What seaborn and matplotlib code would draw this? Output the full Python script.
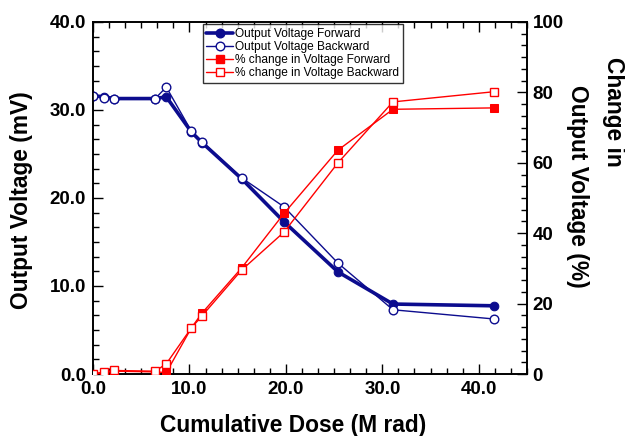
import matplotlib
matplotlib.use("Agg")
import matplotlib.pyplot as plt
import seaborn as sns
import pandas as pd
from matplotlib.ticker import MultipleLocator, FormatStrFormatter
from matplotlib.lines import Line2D

dose = [0.0, 1.15, 2.2, 6.45, 7.6, 10.2, 11.3, 15.4, 19.8, 25.4, 31.1, 41.6]
v_forward = [31.6, 31.5, 31.3, 31.3, 31.5, 27.5, 26.3, 22.2, 17.3, 11.6, 7.95, 7.75]
v_backward = [31.6, 31.4, 31.3, 31.3, 32.6, 27.6, 26.4, 22.3, 19.0, 12.6, 7.3, 6.25]
pct_forward = [0.0, 0.4, 0.8, 0.6, 0.4, 13.1, 17.3, 30.1, 45.6, 63.6, 75.2, 75.6]
pct_backward = [0.0, 0.6, 1.0, 0.8, 2.9, 13.1, 16.5, 29.5, 40.3, 60.0, 77.3, 80.2]

labels = ["Output Voltage Forward", "Output Voltage Backward",
          "% change in Voltage Forward", "% change in Voltage Backward"]

df = pd.DataFrame({"dose": dose, "vf": v_forward, "vb": v_backward,
                   "pf": pct_forward, "pb": pct_backward})

sns.set_theme(style="white")
plt.rcParams['font.family'] = ['Liberation Sans', 'DejaVu Sans']
plt.rcParams['text.color'] = 'black'
plt.rcParams['axes.labelcolor'] = 'black'
plt.rcParams['xtick.color'] = 'black'
plt.rcParams['ytick.color'] = 'black'

navy = "#0c0c8e"
red = "#ff0000"

fig = plt.figure(figsize=(6.25, 4.36), dpi=100)
ax = fig.add_axes([93/625, 62/436, 434/625, 352/436])
ax2 = ax.twinx()

msz = 6.2
ssz = 5.6
sns.lineplot(data=df, x="dose", y="vf", ax=ax, color=navy, lw=2.6, marker="o",
             markersize=msz, markerfacecolor=navy, markeredgecolor=navy, zorder=4)
sns.lineplot(data=df, x="dose", y="vb", ax=ax, color=navy, lw=1.0, marker="o",
             markersize=msz, markerfacecolor="white", markeredgecolor=navy, markeredgewidth=1.0, zorder=5)
sns.lineplot(data=df, x="dose", y="pf", ax=ax2, color=red, lw=1.0, marker="s",
             markersize=ssz, markerfacecolor=red, markeredgecolor=red, zorder=4)
sns.lineplot(data=df, x="dose", y="pb", ax=ax2, color=red, lw=1.0, marker="s",
             markersize=ssz, markerfacecolor="white", markeredgecolor=red, markeredgewidth=1.0, zorder=5)

ax.set_xlim(0, 45)
ax.set_ylim(0, 40)
ax2.set_ylim(0, 100)
ax.set_xlabel("")
ax.set_ylabel("")
ax2.set_ylabel("")

ax.xaxis.set_major_locator(MultipleLocator(10))
ax.xaxis.set_minor_locator(MultipleLocator(10/6))
ax.yaxis.set_major_locator(MultipleLocator(10))
ax.yaxis.set_minor_locator(MultipleLocator(10/6))
ax2.yaxis.set_major_locator(MultipleLocator(20))
ax2.yaxis.set_minor_locator(MultipleLocator(20/6))
ax.xaxis.set_major_formatter(FormatStrFormatter("%.1f"))
ax.yaxis.set_major_formatter(FormatStrFormatter("%.1f"))
ax2.yaxis.set_major_formatter(FormatStrFormatter("%d"))

ax.tick_params(axis="both", which="both", direction="in", top=True, bottom=True, left=True, right=False,
               width=1.0, colors="black")
ax.tick_params(axis="y", which="both", right=False)
ax.tick_params(which="major", length=7, labelsize=13.5, pad=5)
ax.tick_params(which="minor", length=4)
ax2.tick_params(axis="y", which="both", direction="in", right=True, left=False, width=1.0, colors="black")
ax2.tick_params(which="major", length=7, labelsize=13.5, pad=4)
ax2.tick_params(which="minor", length=4)
for a in (ax, ax2):
    for lab in a.get_xticklabels() + a.get_yticklabels():
        lab.set_fontweight("bold")
        lab.set_color("black")
    for s in a.spines.values():
        s.set_color("black")
        s.set_linewidth(1.2)

fs = 16.4
fig.text(22/625, 1 - 200/436, "Output Voltage (mV)", rotation=90, ha="center", va="center",
         fontsize=fs, fontweight="bold", color="black")
fig.text(293/625, 1 - 425/436, "Cumulative Dose (M rad)", ha="center", va="center",
         fontsize=fs, fontweight="bold", color="black")
fig.text(614/625, 1 - 112/436, "Change in", rotation=270, ha="center", va="center",
         fontsize=fs, fontweight="bold", color="black")
fig.text(578/625, 1 - 186/436, "Output Voltage (%)", rotation=270, ha="center", va="center",
         fontsize=fs, fontweight="bold", color="black")

handles = [
    Line2D([], [], color=navy, lw=2.6, marker="o", markersize=msz, markerfacecolor=navy, markeredgecolor=navy),
    Line2D([], [], color=navy, lw=1.0, marker="o", markersize=msz, markerfacecolor="white", markeredgecolor=navy),
    Line2D([], [], color=red, lw=1.0, marker="s", markersize=ssz, markerfacecolor=red, markeredgecolor=red),
    Line2D([], [], color=red, lw=1.0, marker="s", markersize=ssz, markerfacecolor="white", markeredgecolor=red),
]
for a in (ax, ax2):
    lg = a.get_legend()
    if lg is not None:
        lg.remove()
leg = ax2.legend(handles, labels, loc="upper left", bbox_to_anchor=(0.253, 0.994),
                 fontsize=8.6, frameon=True, fancybox=False, edgecolor="black",
                 handlelength=2.2, handletextpad=0.2, labelspacing=0.1,
                 borderpad=0.3, borderaxespad=0.0)
leg.get_frame().set_linewidth(1.0)
for t in leg.get_texts():
    t.set_color("black")

fig.savefig("out.png", dpi=100)
